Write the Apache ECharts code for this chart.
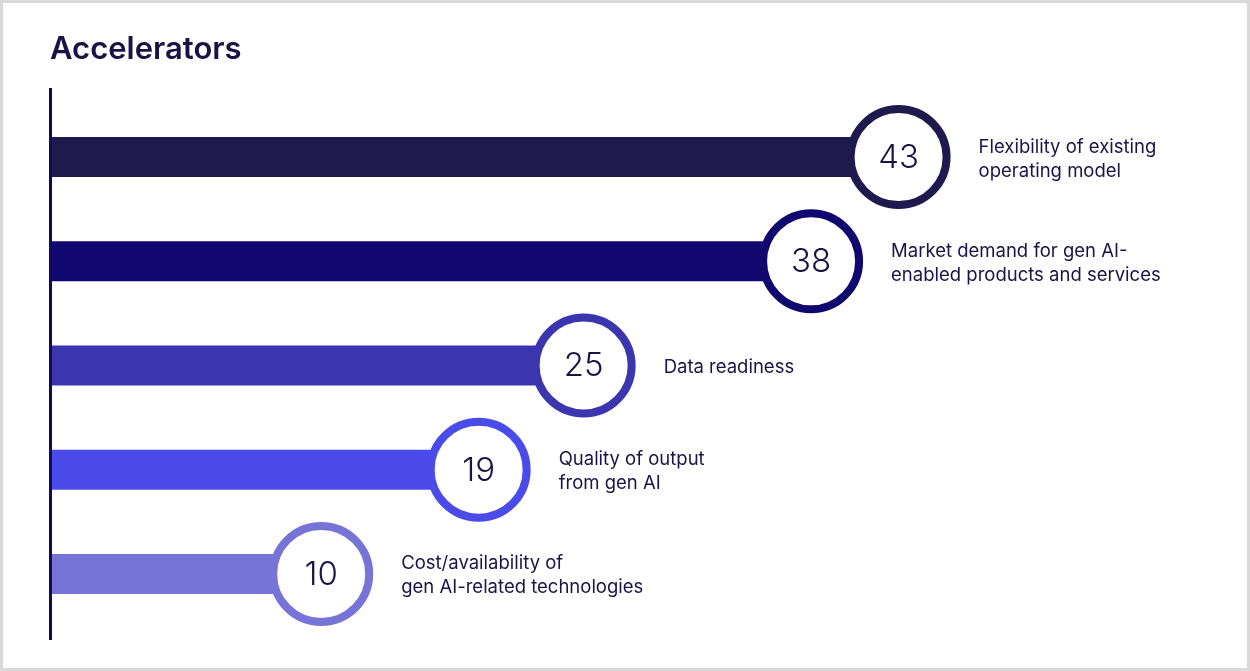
<!DOCTYPE html>
<html>
<head>
<meta charset="utf-8">
<title>Accelerators</title>
<script src="https://cdn.jsdelivr.net/npm/echarts@6/dist/echarts.min.js"></script>
<style>
  html, body { margin: 0; padding: 0; background: #ffffff; }
  #chart { width: 1250px; height: 671px; }
</style>
</head>
<body>
<div id="chart"></div>
<script>
// Survey share (%) naming each factor as an accelerator
const categories = [
  'Flexibility of existing\noperating model',
  'Market demand for gen AI-\nenabled products and services',
  'Data readiness',
  'Quality of output\nfrom gen AI',
  'Cost/availability of\ngen AI-related technologies'
];
const values = [43, 38, 25, 19, 10];
const barColors = ['#1e1a4d', '#10086f', '#3c36ae', '#4b4bea', '#7674d6'];

const textColor = '#1a1446';
const fontFamily = 'Inter, "Noto Sans", sans-serif';

const chart = echarts.init(document.getElementById('chart'), null, { renderer: 'canvas' });

// Each row: bar from the axis to the value, a ringed badge with the number, and the factor name
function renderItem(params, api) {
  const idx = api.value(0);
  const val = api.value(1);
  const end = api.coord([val, idx]);
  const cs = params.coordSys;
  const barH = 40;
  const r = 48;
  const color = barColors[idx];
  return {
    type: 'group',
    children: [
      {
        type: 'rect',
        shape: { x: cs.x, y: end[1] - barH / 2, width: end[0] - cs.x, height: barH },
        style: { fill: color }
      },
      {
        type: 'circle',
        shape: { cx: end[0], cy: end[1], r: r },
        style: { fill: '#ffffff', stroke: color, lineWidth: 8 }
      },
      {
        type: 'text',
        x: end[0], y: end[1] + 1,
        style: {
          text: String(val),
          fill: textColor,
          font: '300 33px ' + fontFamily,
          align: 'center',
          verticalAlign: 'middle'
        }
      },
      {
        type: 'text',
        x: end[0] + r + 32, y: end[1] + 2,
        style: {
          text: categories[idx],
          fill: textColor,
          font: '400 18.5px ' + fontFamily,
          lineHeight: 24,
          align: 'left',
          verticalAlign: 'middle'
        }
      }
    ]
  };
}

chart.setOption({
  animation: false,
  title: {
    text: 'Accelerators',
    left: 50,
    top: 34,
    padding: 0,
    textStyle: { color: textColor, fontSize: 31, fontWeight: 600, fontFamily: fontFamily }
  },
  grid: { left: 50, right: 19, top: 105, height: 521 },
  xAxis: {
    type: 'value',
    min: -5.5,
    max: 62,
    show: false
  },
  yAxis: {
    type: 'category',
    data: categories.map((c, i) => i),
    inverse: true,
    show: false
  },
  graphic: [
    {
      type: 'rect',
      shape: { x: 1.5, y: 1.5, width: 1247, height: 668 },
      style: { fill: 'none', stroke: '#d9d9d9', lineWidth: 3 },
      silent: true
    },
    {
      type: 'line',
      shape: { x1: 50.5, y1: 88, x2: 50.5, y2: 640 },
      style: { stroke: '#0e0b5e', lineWidth: 3 },
      z: 10,
      silent: true
    }
  ],
  series: [{
    type: 'custom',
    renderItem: renderItem,
    encode: { x: 1, y: 0 },
    data: values.map((v, i) => [i, v]),
    z: 2
  }]
});
</script>
</body>
</html>
